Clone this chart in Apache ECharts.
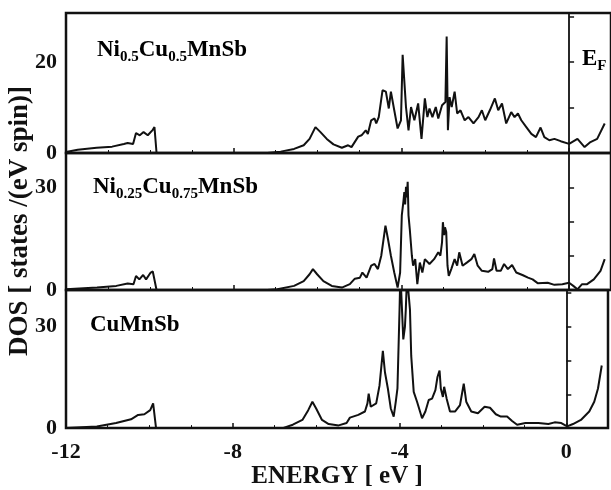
<!DOCTYPE html>
<html>
<head>
<meta charset="utf-8">
<script src="https://cdn.jsdelivr.net/npm/echarts@6/dist/echarts.min.js"></script>
<style>
html,body{margin:0;padding:0;background:#fff;}
#c{width:611px;height:490px;}
</style>
</head>
<body>
<div id="c"></div>
<script>
// ---- data ----
const xTickLabels = [-12, -8, -4, 0];

const energy1 = [-12.0,-11.72,-11.27,-10.9,-10.62,-10.53,-10.4,-10.33,-10.24,-10.15,-10.05,-9.93,-9.89,-9.84,-7.2,-6.88,-6.56,-6.33,-6.19,-6.05,-5.93,-5.78,-5.62,-5.42,-5.27,-5.19,-5.03,-4.95,-4.85,-4.8,-4.72,-4.64,-4.6,-4.54,-4.45,-4.37,-4.3,-4.25,-4.17,-4.09,-4.01,-3.97,-3.93,-3.89,-3.83,-3.77,-3.69,-3.6,-3.52,-3.44,-3.38,-3.33,-3.26,-3.18,-3.12,-3.03,-2.95,-2.93,-2.92,-2.9,-2.89,-2.85,-2.8,-2.73,-2.67,-2.59,-2.49,-2.4,-2.28,-2.16,-2.08,-2.0,-1.89,-1.77,-1.69,-1.6,-1.5,-1.38,-1.3,-1.22,-1.14,-1.02,-0.9,-0.79,-0.68,-0.59,-0.47,-0.35,-0.2,0.0,0.2,0.37,0.51,0.67,0.85];
const dos1 =    [0.2,0.7,1.15,1.4,2.0,2.2,2.0,4.4,3.9,4.6,3.9,5.1,5.7,0.0,0.0,0.3,0.9,1.7,3.1,5.7,4.6,3.1,1.9,1.15,1.7,1.3,3.6,3.9,5.0,4.2,7.2,7.6,6.5,7.9,13.8,13.5,9.8,13.5,9.4,5.4,7.2,21.6,21.6,10.1,5.0,10.1,7.2,10.9,3.1,12.0,7.9,9.8,7.9,10.1,7.6,10.5,11.2,11.5,25.6,25.6,5.0,12.3,10.1,13.5,8.7,9.4,7.2,7.9,6.5,7.9,9.4,7.2,9.4,12.0,9.4,10.9,6.5,9.0,7.9,8.7,7.2,5.7,4.2,3.5,5.6,3.5,2.8,3.1,2.6,2.0,3.1,1.3,2.4,3.1,6.5];

const energy2 = [-12.0,-11.26,-10.8,-10.53,-10.39,-10.33,-10.25,-10.16,-10.09,-9.98,-9.93,-9.84,-7.2,-6.96,-6.56,-6.33,-6.19,-6.11,-6.01,-5.86,-5.66,-5.42,-5.23,-5.11,-4.99,-4.93,-4.83,-4.72,-4.64,-4.56,-4.48,-4.38,-4.32,-4.25,-4.17,-4.09,-4.03,-3.99,-3.95,-3.93,-3.91,-3.89,-3.87,-3.85,-3.83,-3.8,-3.75,-3.72,-3.67,-3.62,-3.56,-3.5,-3.44,-3.33,-3.22,-3.12,-3.07,-3.03,-3.01,-2.98,-2.96,-2.93,-2.9,-2.87,-2.81,-2.73,-2.67,-2.62,-2.54,-2.44,-2.33,-2.26,-2.18,-2.08,-1.93,-1.83,-1.79,-1.73,-1.63,-1.55,-1.46,-1.36,-1.26,-1.1,-0.98,-0.87,-0.75,-0.51,-0.35,-0.16,0.0,0.1,0.2,0.31,0.43,0.59,0.75,0.85];
const dos2 =    [0.2,0.7,1.2,1.9,1.7,4.1,3.1,4.4,3.1,5.1,5.4,0.0,0.0,0.2,1.2,2.6,4.6,6.1,4.6,2.6,1.2,0.7,1.7,3.3,3.6,5.1,3.6,7.1,7.6,6.1,10.0,18.8,14.9,10.0,5.1,0.7,5.1,21.8,26.0,28.6,25.0,30.1,27.0,31.6,21.8,17.8,10.0,7.1,9.0,1.7,8.0,5.1,9.0,7.6,9.0,11.0,10.0,14.0,19.8,16.0,18.3,16.9,7.1,4.1,6.1,9.0,7.1,11.0,7.1,8.0,9.0,10.5,7.1,5.6,5.3,6.1,9.2,5.6,5.6,7.6,6.1,7.3,5.1,4.3,3.6,3.1,2.0,2.1,1.5,1.7,2.1,1.2,0.2,1.7,1.7,3.1,5.6,9.0];

const energy3 = [-12.0,-11.26,-10.8,-10.44,-10.27,-10.12,-9.98,-9.91,-9.84,-7.2,-6.8,-6.56,-6.33,-6.19,-6.09,-6.0,-5.86,-5.7,-5.46,-5.27,-5.19,-4.99,-4.83,-4.77,-4.74,-4.69,-4.56,-4.48,-4.4,-4.35,-4.28,-4.21,-4.14,-4.09,-4.05,-4.0,-3.98,-3.95,-3.91,-3.87,-3.85,-3.82,-3.78,-3.75,-3.72,-3.66,-3.58,-3.46,-3.38,-3.3,-3.22,-3.14,-3.09,-3.04,-3.01,-2.96,-2.93,-2.87,-2.79,-2.67,-2.55,-2.46,-2.4,-2.28,-2.12,-1.96,-1.83,-1.69,-1.57,-1.42,-1.3,-1.18,-0.98,-0.67,-0.43,-0.28,-0.12,0.02,0.16,0.35,0.55,0.67,0.76,0.85];
const dos3 =    [0.0,0.5,1.5,2.6,3.9,4.1,5.3,7.3,0.0,0.0,0.0,1.0,2.4,5.3,7.8,5.8,2.4,1.2,0.8,1.5,3.1,3.9,4.9,7.3,10.2,6.3,7.3,12.6,22.8,16.5,11.7,5.8,3.4,7.8,11.7,35.0,46.0,46.0,26.2,30.0,35.0,45.0,45.0,35.0,21.4,10.7,7.8,2.9,4.9,8.3,8.7,11.2,15.1,17.0,11.7,9.2,12.2,8.7,4.9,4.9,6.8,13.1,7.8,4.9,4.4,6.3,6.0,4.1,3.4,3.4,2.1,1.0,1.5,1.5,1.2,1.7,1.5,0.5,1.2,2.4,4.9,7.8,11.7,18.5];

const panelMax = [30.8, 40, 40.8];
const panelLabelTicks = [[0, 20], [0, 30], [0, 30]];
const panelNames = [
  '{m|Ni}{s|0.5}{m|Cu}{s|0.5}{m|MnSb}',
  '{m|Ni}{s|0.25}{m|Cu}{s|0.75}{m|MnSb}',
  '{m|CuMnSb}'
];
const yTitle = 'DOS [ states /(eV spin)]';
const xTitle = 'ENERGY [ eV ]';

// ---- chart ----
const FONT = '"Liberation Serif","Times New Roman",serif';
const INK = '#111';
const energies = [energy1, energy2, energy3];
const doses = [dos1, dos2, dos3];
const tops = [13, 153, 290];
const heights = [140, 137, 140];

const chart = echarts.init(document.getElementById('c'), null, {renderer: 'canvas'});

const grids = [], xAxes = [], yAxes = [], series = [];
for (let i = 0; i < 3; i++) {
  grids.push({left: 66, width: 551, top: tops[i], height: heights[i], show: true,
              borderColor: INK, borderWidth: 2.5, backgroundColor: 'transparent'});
  const isBottom = i === 2;
  xAxes.push({
    type: 'value', gridIndex: i, min: -12, max: 1.0, interval: 4,
    axisLine: {show: false},
    splitLine: {show: false},
    axisTick: {show: true, inside: true, length: 5, lineStyle: {color: INK, width: 1.5}},
    minorTick: {show: true, splitNumber: 4, length: 3, lineStyle: {color: INK, width: 1}},
    axisLabel: {show: isBottom, margin: 13, color: INK, fontFamily: FONT, fontWeight: 'bold', fontSize: 22,
                formatter: v => (xTickLabels.indexOf(v) >= 0 ? String(v) : '')},
    name: isBottom ? xTitle : '',
    nameLocation: 'middle', nameGap: 35,
    nameTextStyle: {color: INK, fontFamily: FONT, fontWeight: 'bold', fontSize: 25}
  });
  const labs = panelLabelTicks[i];
  yAxes.push({
    type: 'value', gridIndex: i, min: 0, max: panelMax[i], interval: 10,
    axisLine: {show: false},
    splitLine: {show: false},
    axisTick: {show: true, inside: true, length: 5, lineStyle: {color: INK, width: 1.5}},
    axisLabel: {margin: 9, color: INK, fontFamily: FONT, fontWeight: 'bold', fontSize: 22,
                formatter: v => (labs.indexOf(v) >= 0 ? String(v) : '')}
  });
  const data = energies[i].map((e, k) => [e, doses[i][k]]);
  series.push({
    type: 'line', xAxisIndex: i, yAxisIndex: i, data: data,
    showSymbol: false, symbol: 'none', clip: true, animation: false,
    lineStyle: {color: INK, width: 2},
    markLine: {silent: true, symbol: ['none', 'none'], label: {show: false},
               lineStyle: {color: INK, width: 1.8, type: 'solid'},
               data: [{xAxis: 0}], animation: false}
  });
}

const rich = {
  m: {fontFamily: FONT, fontWeight: 'bold', fontSize: 23, color: INK, verticalAlign: 'top', lineHeight: 30},
  s: {fontFamily: FONT, fontWeight: 'bold', fontSize: 15, color: INK, verticalAlign: 'top', lineHeight: 30, padding: [11, 0, 0, 0]}
};
const labelY = [39, 176, 314];
const labelX = [97, 93, 90];
const graphics = panelNames.map((t, i) => ({
  type: 'text', left: labelX[i], top: labelY[i], z: 100,
  style: {text: t, rich: rich, textVerticalAlign: 'top'}
}));
graphics.push({
  type: 'text', left: 582, top: 48, z: 100,
  style: {text: '{m|E}{s|F}', rich: rich}
});
graphics.push({
  type: 'text', x: 20, y: 221, rotation: Math.PI / 2, z: 100,
  style: {text: yTitle, fill: INK, font: 'bold 27px ' + FONT, textAlign: 'center', textVerticalAlign: 'middle'}
});

chart.setOption({
  animation: false,
  backgroundColor: '#fff',
  grid: grids, xAxis: xAxes, yAxis: yAxes, series: series,
  graphic: graphics
});
</script>
</body>
</html>
